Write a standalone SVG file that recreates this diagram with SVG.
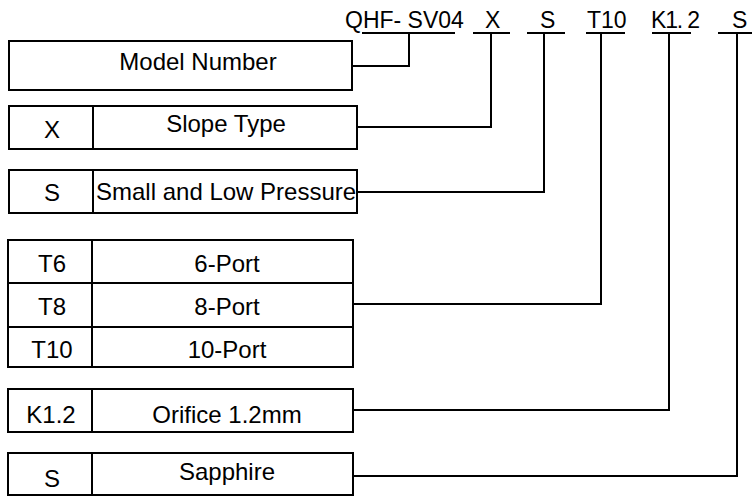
<svg xmlns="http://www.w3.org/2000/svg" width="752" height="498" viewBox="0 0 752 498">
<style>
  .box { fill: #ffffff; stroke: #000000; stroke-width: 2; }
  .div { stroke: #000000; stroke-width: 2; fill: none; }
  .conn { stroke: #000000; stroke-width: 2; fill: none; }
  text { font-family: "Liberation Sans", Arial, sans-serif; font-size: 24px; fill: #000000; }
  .h { font-size: 23px; }
  .c { text-anchor: middle; }
</style>
<rect width="752" height="498" fill="#ffffff"/>
<g id="header">
  <text class="h" x="345" y="28">QHF- SV04</text>
  <text class="h" x="485" y="28">X</text>
  <text class="h" x="540" y="28">S</text>
  <text class="h" x="587" y="28">T10</text>
  <text class="h" x="651" y="28" textLength="49" lengthAdjust="spacing">K1. 2</text>
  <text class="h" x="732" y="28">S</text>
</g>
<g id="connectors">
  <path class="conn" d="M362 33H455M473 33H510M527 33H565M586 33H625M652 33H691M718 33H752"/>
  <polyline class="conn" points="352,66 409,66 409,33"/>
  <polyline class="conn" points="357,127 491,127 491,33"/>
  <polyline class="conn" points="357,192 544,192 544,33"/>
  <polyline class="conn" points="353,304 601,304 601,33"/>
  <polyline class="conn" points="353,410 669,410 669,33"/>
  <polyline class="conn" points="353,476 737,476 737,33"/>
</g>
<g id="model-number">
  <rect class="box" x="9" y="41" width="343" height="49"/>
  <text class="c" x="198" y="70">Model Number</text>
</g>
<g id="slope-type">
  <rect class="box" x="9" y="106" width="348" height="43"/>
  <line class="div" x1="93" y1="106" x2="93" y2="149"/>
  <text class="c" x="52" y="138">X</text>
  <text class="c" x="226" y="132">Slope Type</text>
</g>
<g id="small-low-pressure">
  <rect class="box" x="9" y="170" width="348" height="43"/>
  <line class="div" x1="93" y1="170" x2="93" y2="213"/>
  <text class="c" x="52" y="201">S</text>
  <text x="96" y="200">Small and Low Pressure</text>
</g>
<g id="ports">
  <rect class="box" x="8" y="240" width="345" height="127"/>
  <line class="div" x1="8" y1="283" x2="353" y2="283"/>
  <line class="div" x1="8" y1="327" x2="353" y2="327"/>
  <line class="div" x1="92" y1="240" x2="92" y2="367"/>
  <text class="c" x="52" y="272">T6</text>
  <text class="c" x="227" y="272">6-Port</text>
  <text class="c" x="52" y="315">T8</text>
  <text class="c" x="227" y="315">8-Port</text>
  <text class="c" x="52" y="358">T10</text>
  <text class="c" x="227" y="358">10-Port</text>
</g>
<g id="orifice">
  <rect class="box" x="8" y="389" width="345" height="43"/>
  <line class="div" x1="92" y1="389" x2="92" y2="432"/>
  <text class="c" x="51" y="423">K1.2</text>
  <text class="c" x="227" y="423">Orifice 1.2mm</text>
</g>
<g id="sapphire">
  <rect class="box" x="8" y="453" width="345" height="42"/>
  <line class="div" x1="92" y1="453" x2="92" y2="495"/>
  <text class="c" x="52" y="487">S</text>
  <text class="c" x="227" y="480">Sapphire</text>
</g>
</svg>
